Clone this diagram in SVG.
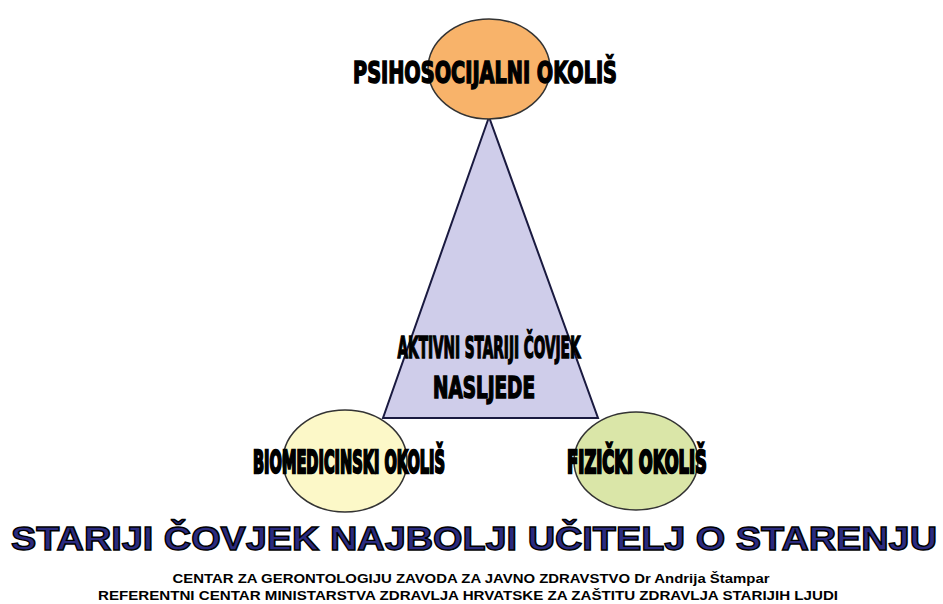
<svg xmlns="http://www.w3.org/2000/svg" width="943" height="604" viewBox="0 0 943 604">
<style>
.n{stroke:#333;stroke-width:1.5}
.lbl{font-family:"DejaVu Sans Condensed","DejaVu Sans",sans-serif;font-weight:bold;fill:#000;stroke:#000;stroke-width:1.5;text-anchor:middle}
.sl{stroke-width:2.4}
.title{font-family:"Liberation Sans",Arial,sans-serif;font-weight:bold;font-size:34px;fill:#2b2b80;stroke:#000;stroke-width:1.4;text-anchor:middle}
.sub{font-family:"Liberation Sans",Arial,sans-serif;font-weight:bold;font-size:12px;fill:#000;text-anchor:middle}
</style>
<rect width="943" height="604" fill="#fff"/>
<g id="connectors">
<polygon points="489,117 383,418 598,418" fill="#cfcdea" stroke="#1a1a40" stroke-width="2"/>
</g>
<g id="triangle-label">
<text class="lbl" x="489" y="358" font-size="30" textLength="183" lengthAdjust="spacingAndGlyphs">AKTIVNI STARIJI ČOVJEK</text>
<text class="lbl" x="484" y="398" font-size="30" textLength="102" lengthAdjust="spacingAndGlyphs">NASLJEDE</text>
</g>
<g id="psihosocijalni">
<ellipse class="n" cx="489" cy="69" rx="61" ry="50" fill="#f8b36a"/>
<text class="lbl" x="485" y="83" font-size="30" textLength="264" lengthAdjust="spacingAndGlyphs">PSIHOSOCIJALNI OKOLIŠ</text>
</g>
<g id="biomedicinski">
<ellipse class="n" cx="345" cy="461" rx="62" ry="51" fill="#fcf8c8"/>
<text class="lbl sl" transform="translate(349,473) scale(0.6,1)" x="0" y="0" font-size="32" textLength="320" lengthAdjust="spacingAndGlyphs">BIOMEDICINSKI  OKOLIŠ</text>
</g>
<g id="fizicki">
<ellipse class="n" cx="636" cy="461" rx="62" ry="49" fill="#dae6a8"/>
<text class="lbl sl" transform="translate(637,473) scale(0.6,1)" x="0" y="0" font-size="32" textLength="233" lengthAdjust="spacingAndGlyphs">FIZIČKI OKOLIŠ</text>
</g>
<g id="footer">
<text class="title" x="474" y="550" textLength="926" lengthAdjust="spacingAndGlyphs">STARIJI  ČOVJEK  NAJBOLJI  UČITELJ  O  STARENJU</text>
<text class="sub" x="471" y="583" textLength="597" lengthAdjust="spacingAndGlyphs">CENTAR  ZA GERONTOLOGIJU ZAVODA ZA JAVNO ZDRAVSTVO Dr Andrija Štampar</text>
<text class="sub" x="468" y="600" textLength="740" lengthAdjust="spacingAndGlyphs">REFERENTNI CENTAR MINISTARSTVA ZDRAVLJA HRVATSKE ZA ZAŠTITU ZDRAVLJA STARIJIH LJUDI</text>
</g>
</svg>
